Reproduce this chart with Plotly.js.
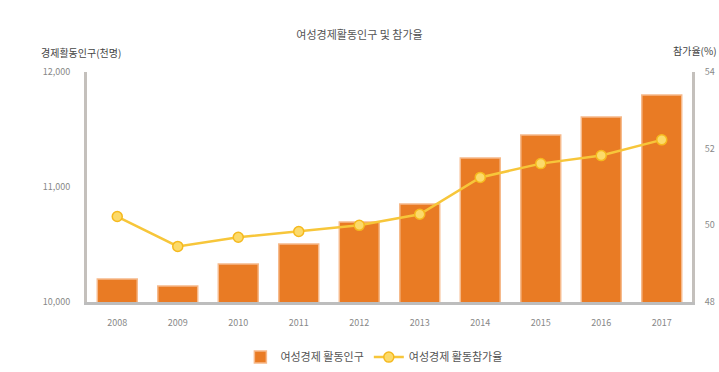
<!DOCTYPE html>
<html>
<head>
<meta charset="utf-8">
<script src="https://cdn.plot.ly/plotly-3.0.1.min.js"></script>
<style>html,body{margin:0;padding:0;background:#fff;}#chart{width:719px;height:372px;}</style>
</head>
<body>
<div id="chart"></div>
<script>
const years = ['2008','2009','2010','2011','2012','2013','2014','2015','2016','2017'];
const population = [10200, 10139, 10330, 10504, 10696, 10852, 11252, 11452, 11609, 11800];
const rate = [50.23, 49.45, 49.69, 49.84, 50.0, 50.29, 51.25, 51.61, 51.82, 52.23];
const leftTicks = [10000, 11000, 12000];
const rightTicks = [48, 50, 52, 54];

const font = "'Noto Sans CJK KR', 'Noto Sans', sans-serif";

const data = [
  {
    type: 'bar', x: years, y: population, name: '여성경제 활동인구',
    marker: {color: '#E97B24', line: {color: '#F6B98A', width: 1.5}},
    yaxis: 'y'
  },
  {
    type: 'scatter', mode: 'lines+markers', x: years, y: rate, name: '여성경제 활동참가율',
    line: {color: '#F7C63A', width: 2.5},
    marker: {color: '#FCDA6A', size: 10, line: {color: '#F5B91E', width: 1.5}},
    yaxis: 'y2'
  }
];

const layout = {
  width: 719, height: 372,
  margin: {l: 87, r: 27, t: 72, b: 70},
  paper_bgcolor: '#fff', plot_bgcolor: '#fff',
  font: {family: font, size: 9, color: '#777'},
  title: {text: '여성경제활동인구 및 참가율', x: 0.5, xanchor: 'center', y: 0.905, yanchor: 'middle',
          font: {family: font, size: 11, color: '#555'}},
  bargap: 0.34,
  showlegend: true,
  legend: {orientation: 'h', x: 0.52, xanchor: 'center', xref: 'container', y: 0.04, yanchor: 'middle', yref: 'container',
           font: {family: font, size: 11, color: '#555'}, itemwidth: 30},
  xaxis: {
    type: 'category', range: [-0.5, years.length - 0.5], showgrid: false, zeroline: false,
    showline: true, linecolor: '#BDBDBD', linewidth: 3,
    ticks: '', tickfont: {family: font, size: 9, color: '#888'}, ticklabelstandoff: 10
  },
  yaxis: {
    range: [10000, 12000], tickvals: leftTicks, ticktext: leftTicks.map(v => v.toLocaleString('en-US')),
    showgrid: false, zeroline: false, showline: true, linecolor: '#C4C0BC', linewidth: 3,
    ticks: '', tickfont: {family: font, size: 9, color: '#888'}, ticklabelstandoff: 12
  },
  yaxis2: {
    overlaying: 'y', side: 'right', range: [48, 54], tickvals: rightTicks,
    showgrid: false, zeroline: false, showline: true, linecolor: '#C4C0BC', linewidth: 3,
    ticks: '', tickfont: {family: font, size: 9, color: '#888'}, ticklabelstandoff: 8
  },
  annotations: [
    {text: '경제활동인구(천명)', xref: 'paper', yref: 'paper', x: -0.08, y: 1.085, xanchor: 'left', yanchor: 'middle',
     showarrow: false, font: {family: font, size: 10, color: '#444'}},
    {text: '참가율(%)', xref: 'paper', yref: 'paper', x: 0.965, y: 1.095, xanchor: 'left', yanchor: 'middle',
     showarrow: false, font: {family: font, size: 10, color: '#444'}}
  ]
};

Plotly.newPlot('chart', data, layout, {displayModeBar: false, staticPlot: true});
</script>
</body>
</html>
